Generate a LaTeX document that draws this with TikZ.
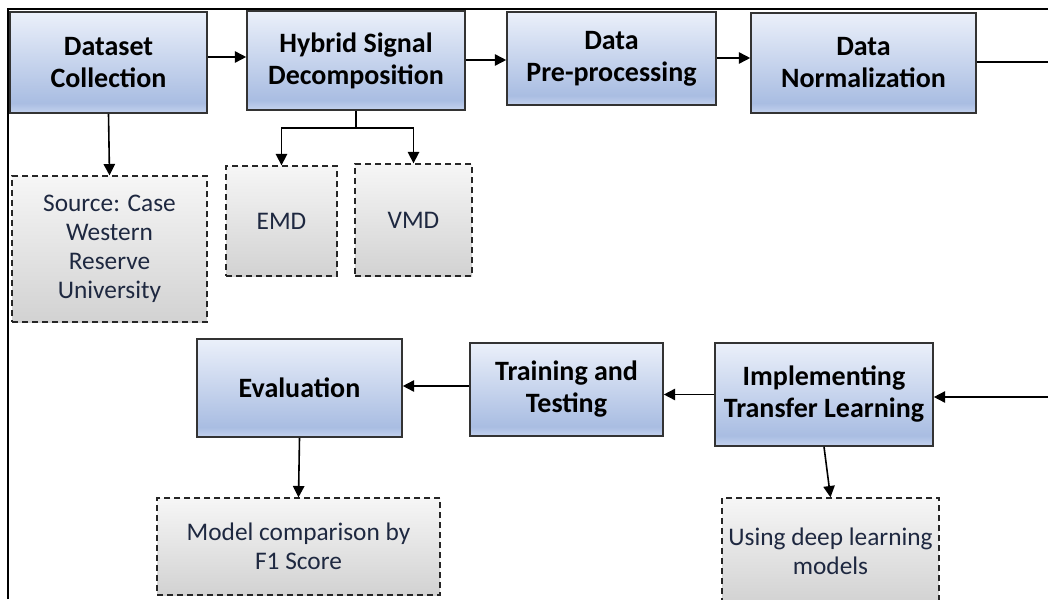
\documentclass[tikz,border=0pt]{standalone}
\usepackage{fontspec}
\setmainfont{Carlito}
\usetikzlibrary{arrows.meta,calc}
\definecolor{btop}{HTML}{EBF0FA}
\definecolor{bmid}{HTML}{A9BDE2}
\definecolor{bbot}{HTML}{C4D2EE}
\definecolor{gtop}{HTML}{F6F6F6}
\definecolor{gbot}{HTML}{D2D2D2}
\definecolor{gtext}{HTML}{1E2840}
\definecolor{bline}{HTML}{333333}
\pgfdeclareverticalshading{blueshade}{100bp}{color(0bp)=(bbot); color(25bp)=(bbot); color(30bp)=(bmid); color(75bp)=(btop); color(100bp)=(btop)}
\begin{document}
\begin{tikzpicture}[x=0.75pt,y=-0.75pt,
  bluebox/.style={draw=bline, line width=1.2pt, shading=blueshade, align=center,
     font=\fontsize{21}{24}\selectfont\bfseries, inner sep=0pt},
  graybox/.style={draw=black!85, line width=1pt, dash pattern=on 4.5pt off 3pt,
     top color=gtop, bottom color=gbot, align=center, text=gtext,
     font=\fontsize{19}{21.75}\selectfont, inner sep=0pt},
  arr/.style={draw=black, line width=1.2pt, -{Triangle[length=8.5pt,width=8.5pt]}},
  ln/.style={draw=black, line width=1.2pt}]
\useasboundingbox (0,0) rectangle (1048,599);
\clip (0,0) rectangle (1048,599);
\fill[white] (0,0) rectangle (1048,599);
% frame
\draw[line width=1.6pt] (8,599) -- (8,9) -- (1048,9);
% top row
\node[bluebox, minimum width={197*0.75pt}, minimum height={101*0.75pt}] (dc) at (108.5,62.5) {Dataset\\Collection};
\node[bluebox, minimum width={218*0.75pt}, minimum height={99*0.75pt}] (hsd) at (356,60.5) {Hybrid Signal\\Decomposition};
\node[bluebox, minimum width={209*0.75pt}, minimum height={93*0.75pt}] (dp) at (611.5,58.5) {Data\\Pre-processing};
\node[bluebox, minimum width={225*0.75pt}, minimum height={100*0.75pt}] (dn) at (863.5,63) {Data\\Normalization};
% sub boxes
\node[graybox, minimum width={195*0.75pt}, minimum height={146*0.75pt}] (src) at (109.5,249) {Source: Case\\Western\\Reserve\\University};
\node[graybox, minimum width={111*0.75pt}, minimum height={110*0.75pt}] (emd) at (281.5,221) {EMD};
\node[graybox, minimum width={117*0.75pt}, minimum height={112*0.75pt}] (vmd) at (413.5,220) {VMD};
% bottom row
\node[bluebox, minimum width={205*0.75pt}, minimum height={98*0.75pt}] (ev) at (299.5,388) {Evaluation};
\node[bluebox, minimum width={193*0.75pt}, minimum height={93*0.75pt}] (tt) at (566.5,389.5) {Training and\\Testing};
\node[bluebox, minimum width={218*0.75pt}, minimum height={103*0.75pt}] (itl) at (824,394.5) {Implementing\\Transfer Learning};
\node[graybox, minimum width={283*0.75pt}, minimum height={97*0.75pt}] (mc) at (298.5,546.5) {Model comparison by\\F1 Score};
\node[graybox, minimum width={217*0.75pt}, minimum height={106*0.75pt}] (udl) at (830.5,551) {Using deep learning\\models};
% free ends
\coordinate (outR) at (1048,62);
\coordinate (inR) at (1048,397);
% connectors
\draw[arr] (dc.east |- 0,57) -- (hsd.west |- 0,57);
\draw[arr] (hsd.east |- 0,60) -- (dp.west |- 0,60);
\draw[arr] (dp.east |- 0,58) -- (dn.west |- 0,58);
\draw[ln] (dn.east |- outR) -- (outR);
\draw[arr] (inR) -- (itl.east |- inR);
\draw[arr] (itl.west) -- (itl.west -| tt.east);
\draw[arr] (tt.west |- 0,386) -- (ev.east |- 0,386);
\draw[arr] (ev.south) -- (mc.north);
\draw[arr] (itl.south) -- (udl.north);
\draw[arr] (dc.south) -- (src.north);
\draw[ln] (hsd.south) -- ++(0,17) coordinate (split);
\draw[arr] (split) -| (emd.north);
\draw[arr] (split) -| (vmd.north);
\end{tikzpicture}
\end{document}
